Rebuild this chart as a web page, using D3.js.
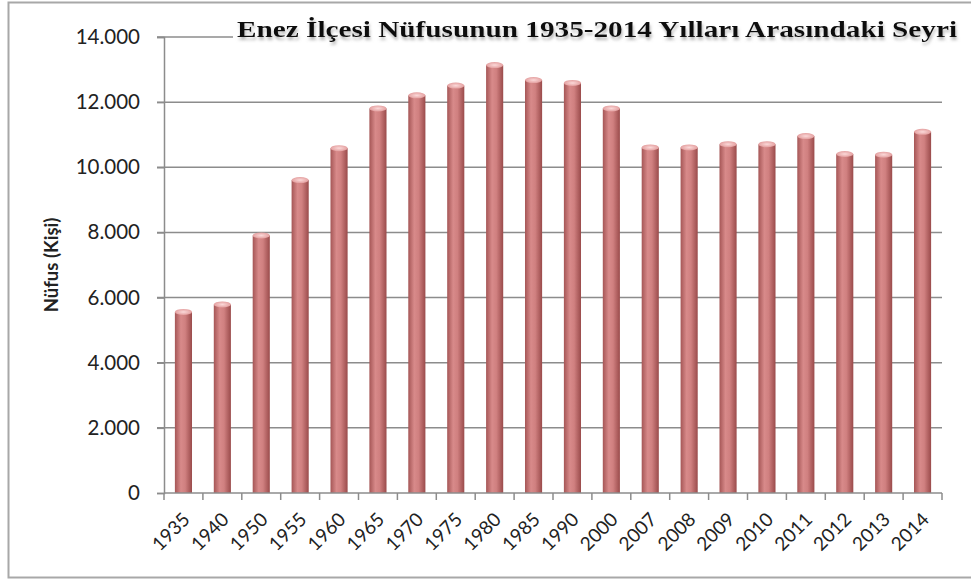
<!DOCTYPE html>
<html>
<head>
<meta charset="utf-8">
<script src="https://cdn.jsdelivr.net/npm/d3@7"></script>
<style>
  body { margin: 0; background: #fff; }
  svg { display: block; }
</style>
</head>
<body>
<svg id="chart" width="971" height="583"></svg>
<script>
// data
var years = ["1935", "1940", "1950", "1955", "1960", "1965", "1970", "1975", "1980", "1985",
  "1990", "2000", "2007", "2008", "2009", "2010", "2011", "2012", "2013", "2014"];
var population = [5650, 5880, 8000, 9700, 10680, 11900, 12300, 12600, 13230, 12770,
  12680, 11900, 10700, 10700, 10800, 10800, 11050, 10500, 10480, 11180];
var yTicks = [0, 2000, 4000, 6000, 8000, 10000, 12000, 14000];
var titleText = "Enez İlçesi Nüfusunun 1935-2014 Yılları Arasındaki Seyri";
var yTitle = "Nüfus (Kişi)";

var svg = d3.select("#chart");
var m = {left: 164, right: 942, top: 37, bottom: 493};

var x = d3.scaleBand().domain(years).range([m.left, m.right]).paddingInner(0.56).paddingOuter(0.28);
var y = d3.scaleLinear().domain([0, 14000]).range([m.bottom, m.top]);
var fmt = function(d) { return d3.format(",")(d).replace(/,/g, "."); };

// outer frame
svg.append("rect").attr("x", 8.5).attr("y", 2.5).attr("width", 975).attr("height", 575)
  .attr("fill", "none").attr("stroke", "#a8a8a8").attr("stroke-width", 2);

var defs = svg.append("defs");
var grad = defs.append("linearGradient").attr("id", "barGrad").attr("x1", "0%").attr("x2", "100%");
grad.append("stop").attr("offset", "0%").attr("stop-color", "#a55656");
grad.append("stop").attr("offset", "35%").attr("stop-color", "#d88a8a");
grad.append("stop").attr("offset", "60%").attr("stop-color", "#d08080");
grad.append("stop").attr("offset", "100%").attr("stop-color", "#9a4b4b");
var capGrad = defs.append("radialGradient").attr("id", "capGrad");
capGrad.append("stop").attr("offset", "0%").attr("stop-color", "#fbd9d9");
capGrad.append("stop").attr("offset", "100%").attr("stop-color", "#e4a0a0");
var shadow = defs.append("filter").attr("id", "shadow").attr("x", "-5%").attr("y", "-30%")
  .attr("width", "110%").attr("height", "180%");
shadow.append("feDropShadow").attr("dx", 1).attr("dy", 3).attr("stdDeviation", 1.5)
  .attr("flood-color", "#888").attr("flood-opacity", 0.6);

// gridlines
svg.append("g").selectAll("line").data(yTicks.slice(1)).enter().append("line")
  .attr("x1", m.left - 7).attr("x2", m.right)
  .attr("y1", d => y(d)).attr("y2", d => y(d))
  .attr("stroke", "#8c8c8c").attr("stroke-width", 1.5);

// y axis
var yAxis = svg.append("g").attr("transform", "translate(" + m.left + ",0)")
  .call(d3.axisLeft(y).tickValues(yTicks).tickFormat(fmt).tickSize(7).tickPadding(17));
yAxis.select(".domain").attr("stroke", "#8c8c8c").attr("stroke-width", 1.5);
yAxis.selectAll(".tick line").attr("stroke", "#8c8c8c").attr("stroke-width", 1.5);
yAxis.selectAll("text").attr("font-family", "Lato, 'Open Sans', sans-serif")
  .attr("font-size", 20.5).attr("fill", "#222");

// bars
var bars = svg.append("g").selectAll("g").data(years).enter().append("g");
bars.append("rect")
  .attr("x", d => x(d)).attr("width", x.bandwidth())
  .attr("y", (d, i) => y(population[i]) + 3)
  .attr("height", (d, i) => m.bottom - y(population[i]) - 3)
  .attr("fill", "url(#barGrad)");
bars.append("ellipse")
  .attr("cx", d => x(d) + x.bandwidth() / 2).attr("cy", (d, i) => y(population[i]) + 3)
  .attr("rx", x.bandwidth() / 2).attr("ry", 3)
  .attr("fill", "url(#capGrad)");

// x axis: ticks at band boundaries
var xg = svg.append("g");
xg.append("line").attr("x1", m.left).attr("x2", m.right).attr("y1", m.bottom).attr("y2", m.bottom)
  .attr("stroke", "#8c8c8c").attr("stroke-width", 1.5);
xg.selectAll("line.tk").data(d3.range(years.length + 1)).enter().append("line").attr("class", "tk")
  .attr("x1", i => m.left + i * (m.right - m.left) / years.length)
  .attr("x2", i => m.left + i * (m.right - m.left) / years.length)
  .attr("y1", m.bottom).attr("y2", m.bottom + 7)
  .attr("stroke", "#8c8c8c").attr("stroke-width", 1.5);
xg.selectAll("text").data(years).enter().append("text")
  .attr("transform", d => "translate(" + (x(d) + x.bandwidth() / 2 + 3) + "," + (m.bottom + 23) + ") rotate(-45)")
  .attr("text-anchor", "end").attr("dy", "0.35em")
  .attr("font-family", "Lato, 'Open Sans', sans-serif").attr("font-size", 19).attr("fill", "#222")
  .text(d => d);

// y title
svg.append("text")
  .attr("transform", "translate(58,265) rotate(-90)")
  .attr("text-anchor", "middle")
  .attr("font-family", "Lato, 'Open Sans', sans-serif").attr("font-weight", "bold")
  .attr("font-size", 18.5).attr("fill", "#222")
  .text(yTitle);

// chart title on a white box, covering the top gridline
svg.append("rect").attr("x", 233).attr("y", 12).attr("width", 730).attr("height", 32).attr("fill", "#fff");
svg.append("text").attr("x", 237).attr("y", 37)
  .attr("font-family", "'Liberation Serif', 'Times New Roman', serif").attr("font-weight", "bold")
  .attr("font-size", 24).attr("fill", "#111").attr("filter", "url(#shadow)")
  .attr("textLength", 720).attr("lengthAdjust", "spacingAndGlyphs")
  .text(titleText);
</script>
</body>
</html>
